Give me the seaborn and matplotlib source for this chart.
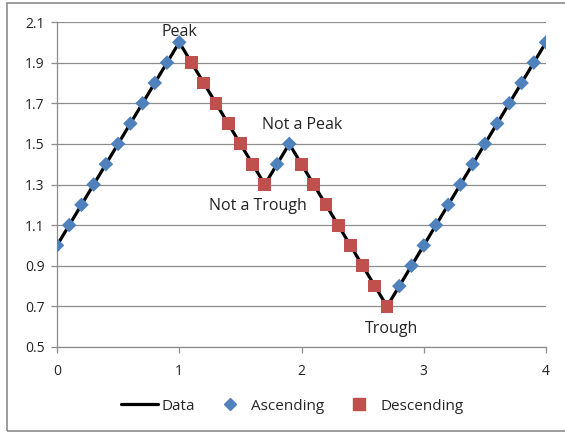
import pandas as pd
import matplotlib.pyplot as plt
import seaborn as sns
from matplotlib.patches import Rectangle
from matplotlib.lines import Line2D

# Datos de la serie
x_vals = [0.0, 0.1, 0.2, 0.3, 0.4, 0.5, 0.6, 0.7, 0.8, 0.9, 1.0,
          1.1, 1.2, 1.3, 1.4, 1.5, 1.6, 1.7, 1.8, 1.9,
          2.0, 2.1, 2.2, 2.3, 2.4, 2.5, 2.6, 2.7, 2.8, 2.9,
          3.0, 3.1, 3.2, 3.3, 3.4, 3.5, 3.6, 3.7, 3.8, 3.9, 4.0]
y_vals = [1.0, 1.1, 1.2, 1.3, 1.4, 1.5, 1.6, 1.7, 1.8, 1.9, 2.0,
          1.9, 1.8, 1.7, 1.6, 1.5, 1.4, 1.3, 1.4, 1.5,
          1.4, 1.3, 1.2, 1.1, 1.0, 0.9, 0.8, 0.7, 0.8, 0.9,
          1.0, 1.1, 1.2, 1.3, 1.4, 1.5, 1.6, 1.7, 1.8, 1.9, 2.0]
direction = (['Ascending'] * 11 + ['Descending'] * 7 + ['Ascending'] * 2
             + ['Descending'] * 8 + ['Ascending'] * 13)

# Etiquetas de texto y el punto al que se refieren
annot_text = ['Peak', 'Not a Peak', 'Not a Trough', 'Trough']
annot_x = [1.0, 1.9, 1.7, 2.7]
annot_y = [2.0, 1.5, 1.3, 0.7]
annot_off = [(0, 1.5), (9, 8), (-5, -9.5), (3, -10.5)]  # desplazamiento en puntos

y_ticks = [0.5, 0.7, 0.9, 1.1, 1.3, 1.5, 1.7, 1.9, 2.1]
x_ticks = [0, 1, 2, 3, 4]

df = pd.DataFrame({'x': x_vals, 'y': y_vals, 'dir': direction})

blue = '#4F81BD'
red = '#C0504D'
grid_col = '#8C8C8C'
txt_col = '#222222'

sns.set_style('white')
plt.rcParams['font.family'] = ['Open Sans', 'DejaVu Sans']

fig = plt.figure(figsize=(5.65, 4.32), dpi=100)
ax = fig.add_axes([57 / 565, 1 - 347 / 432, (546 - 57) / 565, (347 - 22) / 432])

sns.lineplot(data=df, x='x', y='y', color='black', lw=2.3, ax=ax, legend=False, zorder=2)
sns.scatterplot(data=df, x='x', y='y', hue='dir', style='dir',
                palette={'Ascending': blue, 'Descending': red},
                markers={'Ascending': 'D', 'Descending': 's'},
                size='dir', sizes={'Ascending': 55, 'Descending': 85},
                linewidth=0, ax=ax, legend=False, zorder=3)

for t, tx, ty, off in zip(annot_text, annot_x, annot_y, annot_off):
    ax.annotate(t, (tx, ty), xytext=off, textcoords='offset points',
                ha='center', va='bottom' if off[1] > 0 else 'top',
                fontsize=11.5, color=txt_col)

ax.set_xlim(0, 4)
ax.set_ylim(0.5, 2.1)
ax.set_yticks(y_ticks)
ax.set_yticklabels([f'{v:.1f}' for v in y_ticks])
ax.set_xticks(x_ticks)
ax.set_xlabel('')
ax.set_ylabel('')
ax.yaxis.grid(True, color=grid_col, lw=0.9)
ax.xaxis.grid(False)
for s in ['top', 'right']:
    ax.spines[s].set_visible(False)
for s in ['left', 'bottom']:
    ax.spines[s].set_color(grid_col)
    ax.spines[s].set_linewidth(0.9)
ax.tick_params(axis='both', direction='out', length=4, width=0.9, color=grid_col,
               labelsize=10, labelcolor=txt_col, left=True, bottom=True)
ax.tick_params(axis='x', pad=8)
ax.tick_params(axis='y', pad=5)

handles = [Line2D([], [], color='black', lw=2.3),
           Line2D([], [], color=blue, marker='D', ls='none', markersize=6.5),
           Line2D([], [], color=red, marker='s', ls='none', markersize=8.5)]
fig.legend(handles, ['Data', 'Ascending', 'Descending'], loc='center',
           bbox_to_anchor=(0.518, 1 - 406 / 432), ncol=3, frameon=False,
           fontsize=11, handlelength=2.4, handletextpad=0.2, columnspacing=1.1)

fig.patches.append(Rectangle((7 / 565, 1 / 432), 566 / 565, 428 / 432,
                             transform=fig.transFigure, fill=False,
                             edgecolor='#8C8C8C', lw=1.2))

plt.savefig('out.png', dpi=100)
